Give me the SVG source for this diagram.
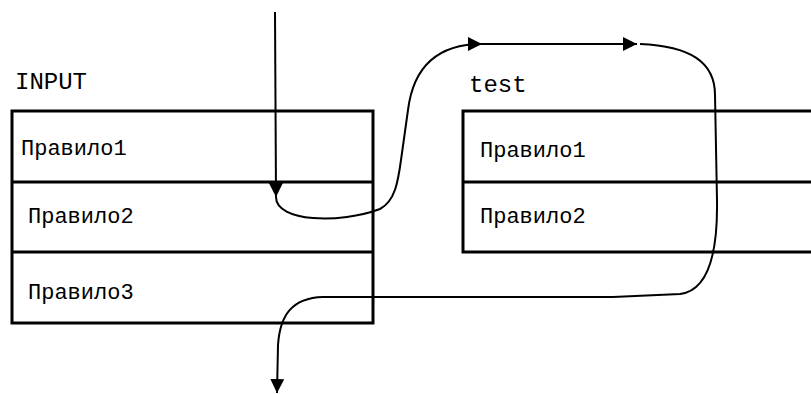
<svg xmlns="http://www.w3.org/2000/svg" width="811" height="394" viewBox="0 0 811 394">
<style>
  .tbl { fill: none; stroke: #000; stroke-width: 3; }
  .row { stroke: #000; stroke-width: 3; }
  .lbl { font-family: "Liberation Mono", "Courier New", monospace; font-size: 22px; fill: #000; }
  .ttl { font-family: "Liberation Mono", "Courier New", monospace; font-size: 24px; fill: #000; }
  .conn { fill: none; stroke: #000; stroke-width: 2; }
</style>
<defs>
  <marker id="arr" markerUnits="userSpaceOnUse" markerWidth="14" markerHeight="14" viewBox="0 0 14 14" refX="14" refY="7" orient="auto">
    <path d="M0,0 L14,7 L0,14 Z" fill="#000"/>
  </marker>
</defs>
<rect width="811" height="394" fill="#fff"/>
<g id="input-table">
  <text class="ttl" x="15" y="89">INPUT</text>
  <rect class="tbl" x="12" y="111" width="361" height="212"/>
  <line class="row" x1="12" y1="182" x2="373" y2="182"/>
  <line class="row" x1="12" y1="252" x2="373" y2="252"/>
  <text class="lbl" x="21" y="155">Правило1</text>
  <text class="lbl" x="28" y="223">Правило2</text>
  <text class="lbl" x="28" y="299">Правило3</text>
</g>
<g id="test-table">
  <text class="ttl" x="469" y="92">test</text>
  <path class="tbl" d="M815,111 L463,111 L463,252 L815,252"/>
  <line class="row" x1="463" y1="182" x2="815" y2="182"/>
  <text class="lbl" x="480" y="157">Правило1</text>
  <text class="lbl" x="480" y="223">Правило2</text>
</g>
<g id="connectors">
  <path class="conn" d="M275,12 L276,197" marker-end="url(#arr)"/>
  <path class="conn" d="M276,197 C276,222 340,224 380,209 C395,201 398,182 401,160 L408,110 C413,70 435,44 482,44" marker-end="url(#arr)"/>
  <path class="conn" d="M482,44 L637,44" marker-end="url(#arr)"/>
  <path class="conn" d="M640,44 C690,46 715,62 715,95 L717,200 C718,262 705,291 680,294 L613,297 L323,297 C292,298 280,315 278,345 L277,393" marker-end="url(#arr)"/>
</g>
</svg>
